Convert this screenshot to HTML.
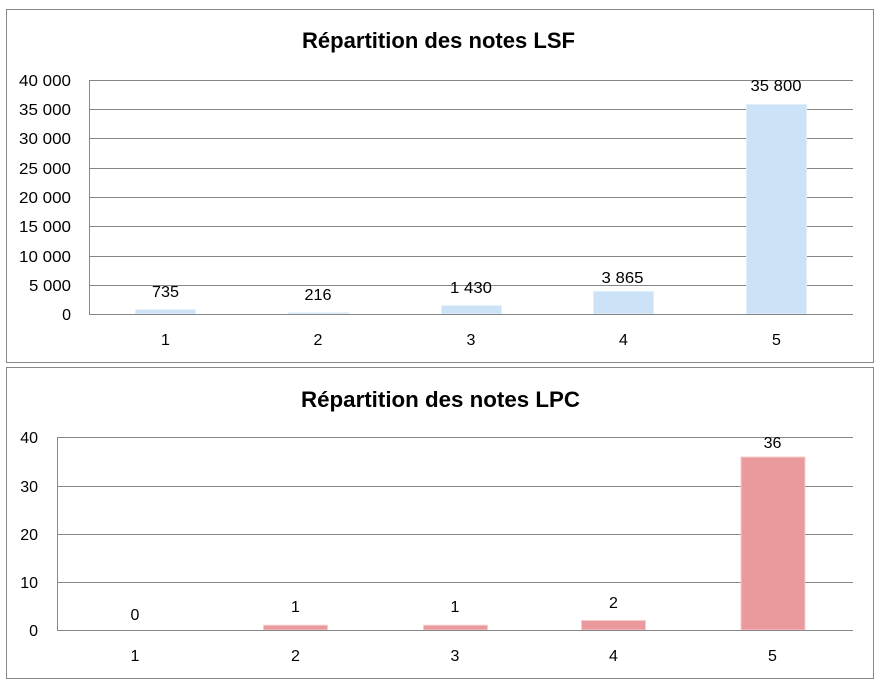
<!DOCTYPE html>
<html>
<head>
<meta charset="utf-8">
<style>
html,body{margin:0;padding:0;background:#fff;}
svg{display:block;}
text{font-family:"Liberation Sans",Arial,sans-serif;fill:#000;}
</style>
</head>
<body>
<svg width="881" height="688" viewBox="0 0 881 688" xmlns="http://www.w3.org/2000/svg">
<rect x="0" y="0" width="881" height="688" fill="#fff"/>

<!-- ===== Top chart ===== -->
<rect x="6.5" y="9.5" width="867" height="353" fill="#fff" stroke="#878787" stroke-width="1"/>
<text x="438.5" y="48" font-size="22" font-weight="bold" text-anchor="middle" textLength="273" lengthAdjust="spacingAndGlyphs">Répartition des notes LSF</text>

<g stroke="#868686" stroke-width="1">
  <line x1="89" y1="80.5" x2="853" y2="80.5"/>
  <line x1="89" y1="109.5" x2="853" y2="109.5"/>
  <line x1="89" y1="138.5" x2="853" y2="138.5"/>
  <line x1="89" y1="168.5" x2="853" y2="168.5"/>
  <line x1="89" y1="197.5" x2="853" y2="197.5"/>
  <line x1="89" y1="226.5" x2="853" y2="226.5"/>
  <line x1="89" y1="256.5" x2="853" y2="256.5"/>
  <line x1="89" y1="285.5" x2="853" y2="285.5"/>
  <line x1="89.5" y1="80" x2="89.5" y2="314"/>
</g>

<g fill="#CCE2F6" stroke="#E2EFFA" stroke-width="1">
  <rect x="135.5" y="309.7" width="60" height="4.3"/>
  <rect x="288.5" y="312.7" width="60" height="1.3"/>
  <rect x="441.5" y="305.6" width="60" height="8.4"/>
  <rect x="593.5" y="291.4" width="60" height="22.6"/>
  <rect x="746.5" y="104.5" width="60" height="209.5"/>
</g>
<line x1="89" y1="314.5" x2="853" y2="314.5" stroke="#868686" stroke-width="1"/>

<g font-size="16" text-anchor="end">
  <text x="71" y="86" textLength="52" lengthAdjust="spacingAndGlyphs">40 000</text>
  <text x="71" y="115" textLength="52" lengthAdjust="spacingAndGlyphs">35 000</text>
  <text x="71" y="144" textLength="52" lengthAdjust="spacingAndGlyphs">30 000</text>
  <text x="71" y="174" textLength="52" lengthAdjust="spacingAndGlyphs">25 000</text>
  <text x="71" y="203" textLength="52" lengthAdjust="spacingAndGlyphs">20 000</text>
  <text x="71" y="232" textLength="52" lengthAdjust="spacingAndGlyphs">15 000</text>
  <text x="71" y="262" textLength="52" lengthAdjust="spacingAndGlyphs">10 000</text>
  <text x="71" y="291" textLength="42" lengthAdjust="spacingAndGlyphs">5 000</text>
  <text x="71" y="320">0</text>
</g>

<g font-size="16" text-anchor="middle">
  <text x="165.5" y="345">1</text>
  <text x="318" y="345">2</text>
  <text x="471" y="345">3</text>
  <text x="623.5" y="345">4</text>
  <text x="776.5" y="345">5</text>

  <text x="165.5" y="297" textLength="27" lengthAdjust="spacingAndGlyphs">735</text>
  <text x="318" y="300" textLength="27" lengthAdjust="spacingAndGlyphs">216</text>
  <text x="471" y="293" textLength="42" lengthAdjust="spacingAndGlyphs">1 430</text>
  <text x="622.5" y="283" textLength="42" lengthAdjust="spacingAndGlyphs">3 865</text>
  <text x="776" y="91" textLength="51" lengthAdjust="spacingAndGlyphs">35 800</text>
</g>

<!-- ===== Bottom chart ===== -->
<rect x="6.5" y="367.5" width="867" height="311" fill="#fff" stroke="#878787" stroke-width="1"/>
<text x="440.5" y="407" font-size="22" font-weight="bold" text-anchor="middle" textLength="279" lengthAdjust="spacingAndGlyphs">Répartition des notes LPC</text>

<g stroke="#868686" stroke-width="1">
  <line x1="57" y1="437.5" x2="853" y2="437.5"/>
  <line x1="57" y1="486.5" x2="853" y2="486.5"/>
  <line x1="57" y1="534.5" x2="853" y2="534.5"/>
  <line x1="57" y1="582.5" x2="853" y2="582.5"/>
  <line x1="57.5" y1="437" x2="57.5" y2="630"/>
</g>

<g fill="#EA9A9C" stroke="#F4CCCC" stroke-width="1">
  <rect x="263.5" y="625.2" width="64" height="4.8"/>
  <rect x="423.5" y="625.2" width="64" height="4.8"/>
  <rect x="581.5" y="620.5" width="64" height="9.5"/>
  <rect x="741" y="457" width="64" height="173"/>
</g>
<line x1="57" y1="630.5" x2="853" y2="630.5" stroke="#868686" stroke-width="1"/>

<g font-size="16" text-anchor="end">
  <text x="38" y="443">40</text>
  <text x="38" y="492">30</text>
  <text x="38" y="540">20</text>
  <text x="38" y="588">10</text>
  <text x="38" y="636">0</text>
</g>

<g font-size="16" text-anchor="middle">
  <text x="135" y="661">1</text>
  <text x="295.5" y="661">2</text>
  <text x="455" y="661">3</text>
  <text x="613.5" y="661">4</text>
  <text x="772.5" y="661">5</text>

  <text x="135" y="620">0</text>
  <text x="295.5" y="612">1</text>
  <text x="455" y="612">1</text>
  <text x="613.5" y="608">2</text>
  <text x="772.5" y="448">36</text>
</g>
</svg>
</body>
</html>
